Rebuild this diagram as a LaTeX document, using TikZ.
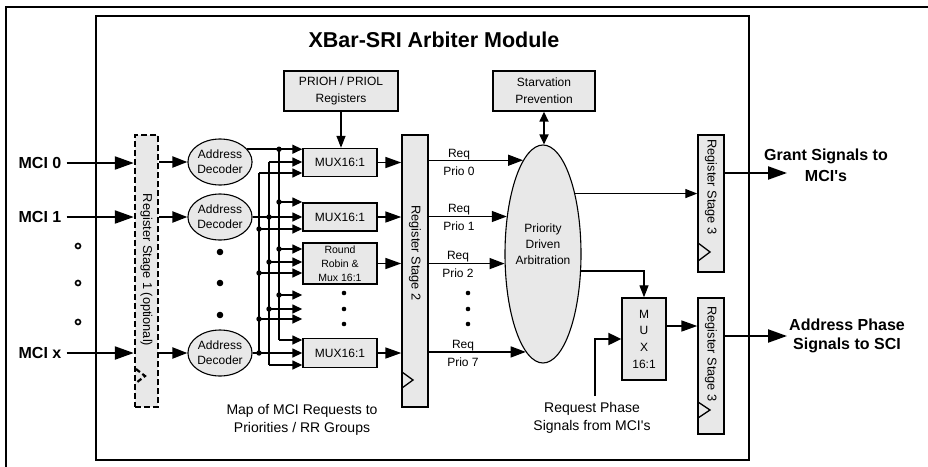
\documentclass[tikz,border=0pt]{standalone}
\usepackage{fontspec}
\setmainfont{Liberation Sans}
\usetikzlibrary{arrows.meta,shapes.geometric,calc}
\definecolor{boxgray}{HTML}{E8E8E8}
\begin{document}
\begin{tikzpicture}[x=1pt,y=-1pt,
  gbox/.style={draw, fill=boxgray, line width=1.4pt, inner sep=0pt, align=center},
  ell/.style={ellipse, draw, fill=boxgray, line width=1.1pt, inner sep=0pt, align=center},
  txt/.style={inner sep=0pt, align=center},
  regtxt/.style={inner sep=0pt, rotate=-90, font=\fontsize{12.8}{15}\selectfont},
  boldlbl/.style={inner sep=0pt, align=center, font=\bfseries\fontsize{16}{20}\selectfont},
  wire/.style={line width=1.5pt},
  bigarrow/.style={line width=2.2pt, -{Triangle[length=19pt,width=13pt]}},
  medarrow/.style={line width=2.2pt, -{Triangle[length=15pt,width=11pt]}},
  inarrow/.style={line width=1.5pt, -{Triangle[length=10pt,width=9pt]}},
  outarrow/.style={line width=1.7pt, -{Triangle[length=16pt,width=11pt]}},
  reqarrow/.style={line width=1.3pt, -{Triangle[length=15pt,width=11pt]}},
  thinarrow/.style={line width=1.3pt, -{Triangle[length=12pt,width=9pt]}},
  dblarrow/.style={line width=1.7pt, {Triangle[length=10pt,width=9pt]}-{Triangle[length=10pt,width=9pt]}},
  phasearrow/.style={line width=2.2pt, -{Triangle[length=13pt,width=12pt]}},
  clk/.style={line width=1.3pt},
  dot/.style={fill=black}
]
\useasboundingbox (0,0) rectangle (928,466);
\fill[white] (0,0) rectangle (928,466);

% outer frame
\coordinate (fTL) at (6,7);
\draw[line width=1.2pt] (6,470) -- (fTL) -- (932,7);

% module box
\node[draw, line width=2.2pt, minimum width=653, minimum height=444, inner sep=0pt] (module) at (422.5,238) {};
\node[txt, font=\bfseries\fontsize{21.5}{26}\selectfont] (title) at (434,40) {XBar-SRI Arbiter Module};

% MCI inputs
\node[boldlbl] (mci0) at (40,163) {MCI 0};
\node[boldlbl] (mci1) at (40,217) {MCI 1};
\node[boldlbl] (mcix) at (40,353) {MCI x};
\foreach \yy in {246,283,322} \draw[line width=1.6pt] (78,\yy) circle (2.5pt);

% Register stage 1
\node[draw, fill=boxgray, line width=2.4pt, dash pattern=on 6pt off 3pt, minimum width=23, minimum height=272, inner sep=0pt] (s1) at (146.5,271) {};
\node[regtxt] (s1t) at (146.5,270) {Register Stage 1 (optional)};
\draw[line width=2.2pt, dash pattern=on 5pt off 3pt] (136,369) -- (145,376) -- (136,383);

\draw[bigarrow] ([xshift=5pt]mci0.east) -- (mci0.east -| s1.west);
\draw[bigarrow] ([xshift=5pt]mci1.east) -- (mci1.east -| s1.west);
\draw[bigarrow] ([xshift=5pt]mcix.east) -- (mcix.east -| s1.west);

% decoders
\node[ell, minimum width=64, minimum height=46, font=\fontsize{12}{15}\selectfont] (dec0) at (220,162) {Address\\Decoder};
\node[ell, minimum width=64, minimum height=46, font=\fontsize{12}{15}\selectfont] (dec1) at (220,217) {Address\\Decoder};
\node[ell, minimum width=64, minimum height=46, font=\fontsize{12}{15}\selectfont] (dec2) at (220,353) {Address\\Decoder};
\foreach \yy in {252,283,315} \fill[dot] (220,\yy) circle (3.3pt);

\draw[medarrow] (s1.east |- dec0.west) -- (dec0.west);
\draw[medarrow] (s1.east |- dec1.west) -- (dec1.west);
\draw[medarrow] (s1.east |- dec2.west) -- (dec2.west);

% muxes
\node[gbox, minimum width=74, minimum height=28, font=\fontsize{12}{15}\selectfont] (mux0) at (340,162.5) {MUX16:1};
\node[gbox, minimum width=74, minimum height=28, font=\fontsize{12}{15}\selectfont] (mux1) at (340,217) {MUX16:1};
\node[gbox, minimum width=74, minimum height=41, font=\fontsize{10.5}{14}\selectfont] (rr) at (340,263.5) {Round\\Robin \&\\Mux 16:1};
\node[gbox, minimum width=74, minimum height=29, font=\fontsize{12}{15}\selectfont] (mux7) at (340,353) {MUX16:1};
\foreach \yy in {293,309,324} \fill[dot] (344,\yy) circle (2.3pt);

% bus lines
\draw[wire] (dec0.25 -| 279,0) -- (279,340);
\draw[wire] (269,162) -- (269,365);
\draw[wire] (259,173) -- (259,353);

% inputs of mux0
\draw[inarrow] (dec0.25) -- (dec0.25 -| mux0.west);
\draw[inarrow] (269,162) -- (mux0.west |- 0,162);
\draw[inarrow] (259,173) -- (mux0.west |- 0,173);
% inputs of mux1
\draw[inarrow] (279,202) -- (mux1.west |- 0,202);
\draw[inarrow] (dec1.east) -- (dec1.east -| mux1.west);
\draw[inarrow] (259,229) -- (mux1.west |- 0,229);
% inputs of rr
\draw[inarrow] (279,249) -- (rr.west |- 0,249);
\draw[inarrow] (269,262) -- (rr.west |- 0,262);
\draw[inarrow] (259,273) -- (rr.west |- 0,273);
% dotted row
\draw[inarrow] (279,295) -- (mux7.west |- 0,295);
\draw[inarrow] (269,309) -- (mux7.west |- 0,309);
\draw[inarrow] (259,319) -- (mux7.west |- 0,319);
% inputs of mux7
\draw[inarrow] (279,340) -- (mux7.west |- 0,340);
\draw[inarrow] (dec2.east) -- (dec2.east -| mux7.west);
\draw[inarrow] (269,365) -- (mux7.west |- 0,365);

% junction dots
\foreach \yy in {202,249,295} \fill[dot] (279,\yy) circle (2.7pt);
\fill[dot] (dec0.25 -| 279,0) circle (2.7pt);
\foreach \yy in {217,262,309} \fill[dot] (269,\yy) circle (2.7pt);
\foreach \yy in {229,273,319,353} \fill[dot] (259,\yy) circle (2.7pt);

% PRIOH / PRIOL
\node[gbox, minimum width=114, minimum height=40, font=\fontsize{12}{17}\selectfont] (prio) at (341,91) {PRIOH / PRIOL\\Registers};
\draw[thinarrow] (prio.south) -- (prio.south |- mux0.north);

% register stage 2
\node[gbox, minimum width=26, minimum height=272] (reg2) at (415,271) {};
\node[regtxt] (reg2t) at (415,253) {Register Stage 2};
\draw[clk] (402,372) -- (413,380) -- (402,388);

\draw[outarrow] (mux0.east) -- (mux0.east -| reg2.west);
\draw[outarrow] (mux1.east) -- (mux1.east -| reg2.west);
\draw[outarrow] (rr.east) -- (rr.east -| reg2.west);
\draw[outarrow] (mux7.east) -- (mux7.east -| reg2.west);

% arbitration
\node[ell, minimum width=76, minimum height=218] (arb) at (543,254) {};
\node[txt, font=\fontsize{12}{16}\selectfont] (arbt) at (543,244) {Priority\\Driven\\Arbitration};

\draw[reqarrow] (reg2.east |- arb.102.5) -- (arb.102.5);
\draw[reqarrow] (reg2.east |- arb.134) -- (arb.134);
\draw[reqarrow] (reg2.east |- arb.194.8) -- (arb.194.8);
\draw[reqarrow] (reg2.east |- arb.260.9) -- (arb.260.9);
\node[txt, font=\fontsize{12}{18}\selectfont] (rq0) at (459,162) {Req\\Prio 0};
\node[txt, font=\fontsize{12}{18}\selectfont] (rq1) at (459,217) {Req\\Prio 1};
\node[txt, font=\fontsize{12}{18}\selectfont] (rq2) at (458,264) {Req\\Prio 2};
\node[txt, font=\fontsize{12}{18}\selectfont] (rq7) at (463,353) {Req\\Prio 7};
\foreach \yy in {293,309,324} \fill[dot] (468,\yy) circle (2.3pt);

% starvation
\node[gbox, minimum width=102, minimum height=40, font=\fontsize{12}{17}\selectfont] (stv) at (544,91) {Starvation\\Prevention};
\draw[dblarrow] (stv.south) -- (stv.south |- arb.north);

% register stage 3 (grant)
\node[gbox, minimum width=26, minimum height=137] (reg3a) at (711,203.5) {};
\node[regtxt] (reg3at) at (711,187) {Register Stage 3};
\draw[clk] (698,243) -- (710,252) -- (698,261);
\draw[thinarrow] (arb.62.2) -- (arb.62.2 -| reg3a.west);

\coordinate (gEnd) at (787,173);
\draw[bigarrow] (reg3a.east |- gEnd) -- (gEnd);
\node[boldlbl, font=\bfseries\fontsize{16}{21}\selectfont] (glbl) at (826,165) {Grant Signals to\\MCI\textquotesingle s};

% MUX 16:1 address phase
\node[gbox, minimum width=44, minimum height=82, font=\fontsize{12}{16.7}\selectfont] (muxX) at (644,339) {M\\U\\X\\16:1};
\draw[thinarrow] (arb.-24.4) -| (muxX.north);

\node[gbox, minimum width=26, minimum height=136] (reg3b) at (711,366) {};
\node[regtxt] (reg3bt) at (711,354) {Register Stage 3};
\draw[clk] (698,402) -- (710,410) -- (698,418);
\draw[outarrow] ([yshift=13pt]muxX.east) -- ([yshift=13pt]muxX.east -| reg3b.west);

\coordinate (rqin) at (595,396);
\draw[phasearrow] (rqin) |- (muxX.west);

\coordinate (aEnd) at (787,336);
\draw[bigarrow] (reg3b.east |- aEnd) -- (aEnd);
\node[boldlbl, font=\bfseries\fontsize{16}{19}\selectfont] (albl) at (847,336) {Address Phase\\Signals to SCI};

% bottom labels
\node[txt, font=\fontsize{14}{18}\selectfont] (maplbl) at (302,420) {Map of MCI Requests to\\Priorities / RR Groups};
\node[txt, font=\fontsize{14}{18}\selectfont] (rqlbl) at (592,418) {Request Phase\\Signals from MCI\textquotesingle s};
\end{tikzpicture}
\end{document}
